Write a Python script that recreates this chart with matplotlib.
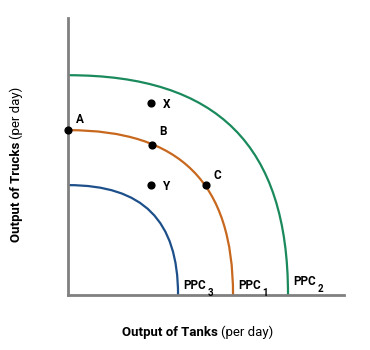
import matplotlib.pyplot as plt
from matplotlib.path import Path
from matplotlib.patches import PathPatch

plt.rcParams['font.family'] = ['Roboto', 'DejaVu Sans']

# intercepts of each frontier (same on both axes)
curve_names = ["PPC3", "PPC1", "PPC2"]
curve_sizes = [4.0, 6.0, 8.0]
curve_colors = ["#1d4f8a", "#c8681e", "#1a8a5c"]

# labelled combinations of tanks (x) and trucks (y)
point_names = ["A", "B", "C", "X", "Y"]
point_x = [0.0, 3.05, 5.0, 3.0, 3.0]
point_y = [6.0, 5.45, 4.0, 7.0, 4.0]

fig = plt.figure(figsize=(3.7, 3.5), dpi=100)
ax = fig.add_axes([0.184, 0.157, 0.746, 0.793])
ax.set_xlim(0, 10.04)
ax.set_ylim(0, 10.1)

# bowed-out quarter curve as a cubic bezier from (0, r) to (r, 0)
k = 0.68
for name, r, col in zip(curve_names, curve_sizes, curve_colors):
    verts = [(0, r), (k * r, r), (r, k * r), (r, 0)]
    codes = [Path.MOVETO, Path.CURVE4, Path.CURVE4, Path.CURVE4]
    ax.add_patch(PathPatch(Path(verts, codes), fill=False, edgecolor=col,
                           lw=1.6, clip_on=False, zorder=2))

ax.scatter(point_x, point_y, s=24, color="black", zorder=4, clip_on=False)

offsets = {"A": (0.3, 0.4), "B": (0.25, 0.5), "C": (0.3, 0.35),
           "X": (0.45, -0.05), "Y": (0.45, -0.05)}
for n, x, y in zip(point_names, point_x, point_y):
    dx, dy = offsets[n]
    ax.text(x + dx, y + dy, n, fontsize=8.5, fontweight="bold",
            ha="left", va="center")

ppc_y = [0.35, 0.35, 0.5]
for name, r, yy in zip(curve_names, curve_sizes, ppc_y):
    ax.text(r + 0.2, yy, "PPC", fontsize=8.5, fontweight="bold",
            ha="left", va="center")
    ax.text(r + 1.08, yy - 0.28, name[-1], fontsize=7, fontweight="bold",
            ha="left", va="center")

for s in ["top", "right"]:
    ax.spines[s].set_visible(False)
for s in ["left", "bottom"]:
    ax.spines[s].set_color("#808080")
    ax.spines[s].set_linewidth(2)
ax.set_xticks([])
ax.set_yticks([])

fig.text(0.590, 0.05, "Output of Tanks", fontsize=9.5, fontweight="bold",
         ha="right", va="center")
fig.text(0.597, 0.05, "(per day)", fontsize=9.5, ha="left", va="center")
fig.text(0.045, 0.595, "Output of Trucks", fontsize=9.5, fontweight="bold",
         rotation=90, ha="center", va="top")
fig.text(0.045, 0.602, "(per day)", fontsize=9.5, rotation=90,
         ha="center", va="bottom")

fig.savefig("out.png", dpi=100)
